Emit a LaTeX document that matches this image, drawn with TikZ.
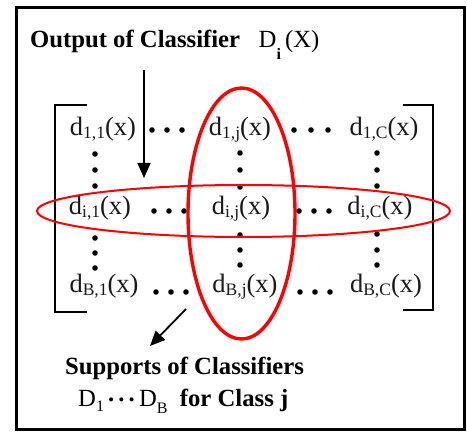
\documentclass[tikz,border=0pt]{standalone}
\usepackage{fontspec}
\setmainfont{Liberation Serif}
\usetikzlibrary{arrows.meta,shapes.geometric}
\newcommand\lowsub[3][16]{\raisebox{#2}{\fontsize{#1}{#1}\selectfont #3}}
\tikzset{
  entry/.style={anchor=base, inner sep=0pt, font=\fontsize{26.5}{29}\selectfont, text=black!90},
  lbl/.style={anchor=base west, inner sep=0pt, font=\fontsize{24.7}{28}\selectfont},
  dotm/.style={fill=black},
  ring/.style={draw=red, ellipse, inner sep=0pt},
  pointer/.style={line width=1.8pt, -{Triangle[length=15pt,width=13pt]}},
  brack/.style={line width=2.4pt},
}
\begin{document}
\begin{tikzpicture}[x=1pt,y=-1pt]
\useasboundingbox (0,0) rectangle (467,433);
\fill[white] (0,0) rectangle (467,433);
\draw[line width=3pt] (16,8) rectangle (464,430);

% title
\node[lbl] (title) at (30,48) {\textbf{Output of Classifier}\hspace{0.75em}D\lowsub{-0.45em}{\textbf{i}}\,(X)};

% brackets
\draw[brack] (87,105) -- (55,105) -- (55,312) -- (87,312);
\draw[brack] (403,105) -- (433,105) -- (433,310) -- (403,310);

% entries
\node[entry] (e11) at (103,136) {d\lowsub[17.5]{-0.1em}{1,1}(x)};
\node[entry] (e1j) at (240,136) {d\lowsub[17.5]{-0.1em}{1,j}(x)};
\node[entry] (e1c) at (384,136) {d\lowsub[17.5]{-0.1em}{1,C}(x)};
\node[entry] (ei1) at (100,215) {d\lowsub[17.5]{-0.1em}{i,1}(x)};
\node[entry] (eij) at (241,215) {d\lowsub[17.5]{-0.1em}{i,j}(x)};
\node[entry] (eic) at (380,215) {d\lowsub[17.5]{-0.1em}{i,C}(x)};
\node[entry] (eb1) at (104,293) {d\lowsub[17.5]{-0.1em}{B,1}(x)};
\node[entry] (ebj) at (245,293) {d\lowsub[17.5]{-0.1em}{B,j}(x)};
\node[entry] (ebc) at (386,293) {d\lowsub[17.5]{-0.1em}{B,C}(x)};

% dots
\foreach \x in {152,167,182} \fill[dotm] (\x,130) circle (2.8);
\foreach \x in {294,311,328} \fill[dotm] (\x,130) circle (2.8);
\foreach \x in {154,169,184} \fill[dotm] (\x,211) circle (2.8);
\foreach \x in {299,314,329} \fill[dotm] (\x,211) circle (2.8);
\foreach \x in {156,171,186} \fill[dotm] (\x,292) circle (2.8);
\foreach \x in {300,315,330} \fill[dotm] (\x,292) circle (2.8);
\foreach \y in {154,170,186,238,253,268} \fill[dotm] (95,\y) circle (2.8);
\foreach \y in {153,170,187,235,250,265} \fill[dotm] (240,\y) circle (2.8);
\foreach \y in {153,170,186,234,250,265} \fill[dotm] (377,\y) circle (2.8);

% red ellipses
\node[ring, line width=2pt, minimum width=413pt, minimum height=52pt] (rowring) at (243.5,211) {};
\node[ring, line width=3.4pt, minimum width=107pt, minimum height=251pt] (colring) at (241.5,213.5) {};

% arrows
\coordinate (a1s) at (144,70);
\coordinate (a1e) at (144,178);
\draw[pointer] (a1s) -- (a1e);
\coordinate (a2s) at (186,309);
\coordinate (a2e) at (150,346);
\draw[pointer] (a2s) -- (a2e);

% bottom text
\node[lbl] (sup1) at (65,375) {\textbf{Supports of Classifiers}};
\node[lbl] (sup2) at (78,407) {D\lowsub{-0.2em}{1}\,\raisebox{0.22em}{\textbf{.\,.\,.}}\,D\lowsub{-0.25em}{B}\enspace\textbf{for Class j}};
\end{tikzpicture}
\end{document}
